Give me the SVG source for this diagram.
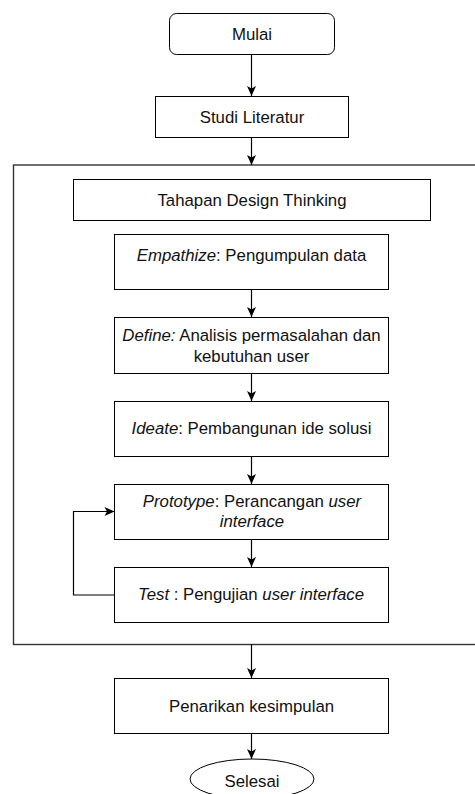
<svg xmlns="http://www.w3.org/2000/svg" width="475" height="794" viewBox="0 0 475 794">
  <style>
    .box { fill: #fff; stroke: #000; stroke-width: 1; }
    .frame { fill: none; stroke: #333; stroke-width: 1.4; }
    .t { font-family: "Liberation Sans", Arial, Helvetica, sans-serif; font-size: 16.8px; fill: #111; text-anchor: middle; }
    .i { font-style: italic; }
    .c { fill: none; stroke: #000; stroke-width: 1.2; }
  </style>
  <defs>
    <marker id="arr" markerUnits="userSpaceOnUse" markerWidth="12" markerHeight="12" viewBox="0 0 12 12" refX="11" refY="6" orient="auto">
      <path d="M1,1.5 L11,6 L1,10.5 L3.5,6 Z" fill="#000"/>
    </marker>
  </defs>
  <rect x="0" y="0" width="475" height="794" fill="#fff"/>

  <g id="container">
    <rect class="frame" x="13.5" y="165" width="480" height="479.5"/>
  </g>

  <g id="connectors">
    <path class="c" d="M251.5,54 V96" marker-end="url(#arr)"/>
    <path class="c" d="M251.5,137 V165" marker-end="url(#arr)"/>
    <path class="c" d="M251.5,289 V317" marker-end="url(#arr)"/>
    <path class="c" d="M251.5,373 V401" marker-end="url(#arr)"/>
    <path class="c" d="M251.5,456 V484" marker-end="url(#arr)"/>
    <path class="c" d="M251.5,539 V567" marker-end="url(#arr)"/>
    <path class="c" d="M114.5,595 H73.5 V511.5 H114.5" marker-end="url(#arr)"/>
    <path class="c" d="M251.5,644.5 V678" marker-end="url(#arr)"/>
    <path class="c" d="M251.5,733 V759" marker-end="url(#arr)"/>
  </g>

  <g id="mulai">
    <rect class="box" x="169.5" y="13.5" width="165" height="41" rx="7"/>
    <text class="t" x="252" y="39.5">Mulai</text>
  </g>

  <g id="studi">
    <rect class="box" x="155.5" y="96.5" width="193" height="41"/>
    <text class="t" x="252" y="122.5">Studi Literatur</text>
  </g>

  <g id="tahapan">
    <rect class="box" x="73.5" y="179.5" width="357" height="41"/>
    <text class="t" x="252" y="205.5">Tahapan Design Thinking</text>
  </g>

  <g id="empathize">
    <rect class="box" x="114.5" y="234.5" width="274" height="55"/>
    <text class="t" x="251.5" y="260.5"><tspan class="i">Empathize</tspan>: Pengumpulan data</text>
  </g>

  <g id="define">
    <rect class="box" x="114.5" y="317.5" width="274" height="56"/>
    <text class="t" x="251.5" y="341"><tspan class="i">Define:</tspan> Analisis permasalahan dan</text>
    <text class="t" x="251.5" y="361.5">kebutuhan user</text>
  </g>

  <g id="ideate">
    <rect class="box" x="114.5" y="401.5" width="274" height="55"/>
    <text class="t" x="251.5" y="433.5"><tspan class="i">Ideate</tspan>: Pembangunan ide solusi</text>
  </g>

  <g id="prototype">
    <rect class="box" x="114.5" y="484.5" width="274" height="55"/>
    <text class="t" x="252" y="506.5"><tspan class="i">Prototype</tspan>: Perancangan <tspan class="i">user</tspan></text>
    <text class="t i" x="252" y="527">interface</text>
  </g>

  <g id="test">
    <rect class="box" x="114.5" y="567.5" width="274" height="55"/>
    <text class="t" x="251" y="600"><tspan class="i">Test</tspan> : Pengujian <tspan class="i">user interface</tspan></text>
  </g>

  <g id="penarikan">
    <rect class="box" x="114.5" y="678.5" width="274" height="55"/>
    <text class="t" x="251.5" y="711.5">Penarikan kesimpulan</text>
  </g>

  <g id="selesai">
    <ellipse class="box" cx="252" cy="779" rx="62" ry="20"/>
    <text class="t" x="252" y="787">Selesai</text>
  </g>
</svg>
